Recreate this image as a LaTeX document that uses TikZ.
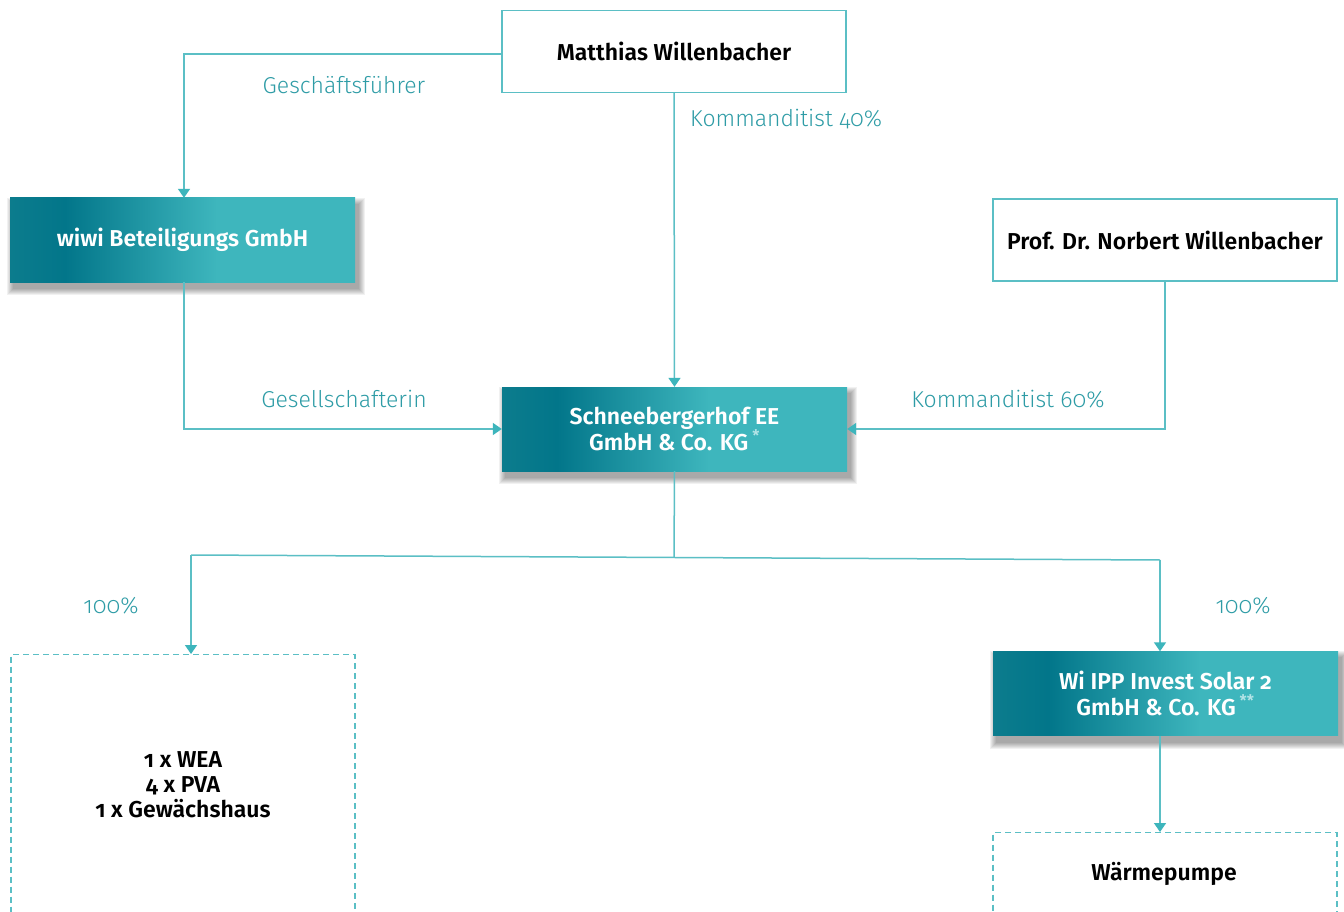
\documentclass[tikz,border=0pt]{standalone}
\usepackage{fontspec}
\setmainfont{Fira Sans}[Numbers=OldStyle, UprightFont={Fira Sans Light}, BoldFont={Fira Sans SemiBold}]
\usetikzlibrary{arrows.meta}
\pgfdeclarelayer{background}
\pgfsetlayers{background,main}
\definecolor{tealline}{HTML}{5BBFC5}
\definecolor{tealtip}{HTML}{3DB5BC}
\definecolor{teallabel}{HTML}{2E9CA6}
\definecolor{gdark}{HTML}{02768A}
\definecolor{glight}{HTML}{3EB6BD}
\definecolor{gedge}{HTML}{0C7C8D}
\definecolor{starcol}{HTML}{B5E4E7}
\pgfdeclarehorizontalshading{boxgrad}{100bp}{color(0bp)=(gedge); color(25bp)=(gedge); color(33bp)=(gdark); color(55bp)=(glight); color(100bp)=(glight)}
\tikzset{
  plainbox/.style={draw=tealline, line width=1.3pt, fill=white, rectangle, minimum width=344pt, minimum height=82pt, inner sep=0pt, align=center, font=\fontsize{23}{26}\selectfont\bfseries, text=black},
  gradbox/.style={rectangle, shading=boxgrad, minimum width=345pt, minimum height=84pt, inner sep=0pt, align=center, font=\fontsize{23}{26}\selectfont\bfseries, text=white},
  shadowlayer/.style={fill=black, opacity=0.055},
  dashbox/.style={draw=tealline, line width=1.3pt, dash pattern=on 6pt off 4pt, rectangle, minimum width=344pt, inner sep=0pt},
  boxtext/.style={font=\fontsize{23}{25}\selectfont\bfseries, align=center, inner sep=0pt, text=black},
  conn/.style={draw=tealline, line width=1.5pt},
  arr/.style={conn, -{Triangle[width=12pt,length=9pt,color=tealtip]}},
  lbl/.style={text=teallabel, font=\fontsize{23}{23}\selectfont, inner sep=0pt}
}
\newcommand{\starmark}[1]{\textsuperscript{\color{starcol}\fontsize{16}{16}\selectfont #1}}
\begin{document}
\begin{tikzpicture}[x=1pt,y=-1pt]
\clip (0,0) rectangle (1344,912);
\begin{pgfonlayer}{background}
\fill[white] (0,0) rectangle (1344,912);
\end{pgfonlayer}
% boxes
\node[plainbox] (mw) at (674,51.5) {Matthias Willenbacher};
\node[gradbox] (wiwi) at (182.5,240) {wiwi Beteiligungs GmbH};
\node[plainbox] (nw) at (1165,240) {Prof. Dr. Norbert Willenbacher};
\node[gradbox] (see) at (674.5,429) {Schneebergerhof EE\\GmbH \& Co. KG\,\starmark{*}};
\node[gradbox] (ipp) at (1165.5,693.5) {Wi IPP Invest Solar 2\\GmbH \& Co. KG\,\starmark{**}};
\node[dashbox, minimum height=400pt, anchor=north] (dl) at (183,654) {};
\node[dashbox, minimum height=200pt, anchor=north] (dr) at (1165,832) {};
\node[boxtext] (dltext) at (183,785) {1 x WEA\\4 x PVA\\1 x Gewächshaus};
\node[boxtext] (drtext) at (1164,874) {Wärmepumpe};
% soft shadows
\begin{pgfonlayer}{background}
\foreach \n in {wiwi,see,ipp}{
  \foreach \i in {0,...,6}{
    \fill[shadowlayer] ([shift={(-3+\i,\i)}]\n.north west) rectangle ([shift={(10-\i,13-\i)}]\n.south east);
  }
}
\end{pgfonlayer}
% junction coordinates
\coordinate (gf) at (184,54);
\coordinate (ge) at (184,429);
\coordinate (kn) at (1165,429);
\coordinate (jM) at (674,557.5);
\coordinate (jL) at (191,555);
\coordinate (jR) at (1160,560);
% connectors
\draw[arr] (mw.west |- gf) -- (gf) -- (wiwi.north -| gf);
\draw[arr] (mw.south) -- (see.north);
\draw[arr] (wiwi.south -| ge) -- (ge) -- (see.west |- ge);
\draw[arr] (nw.south) -- (kn) -- (see.east |- kn);
\draw[conn] (see.south) -- (jM);
\draw[conn] (jL) -- (jR);
\draw[arr] (jL) -- (jL |- dl.north);
\draw[arr] (jR) -- (jR |- ipp.north);
\draw[arr] (ipp.south -| jR) -- (jR |- dr.north);
% labels
\node[lbl] (l1) at (344,85) {Geschäftsführer};
\node[lbl, anchor=west] (l2) at (690,119) {Kommanditist 40\%};
\node[lbl] (l3) at (344,399) {Gesellschafterin};
\node[lbl] (l4) at (1008,399) {Kommanditist 60\%};
\node[lbl] (l5) at (111,606) {100\%};
\node[lbl] (l6) at (1243,606) {100\%};
\end{tikzpicture}
\end{document}
